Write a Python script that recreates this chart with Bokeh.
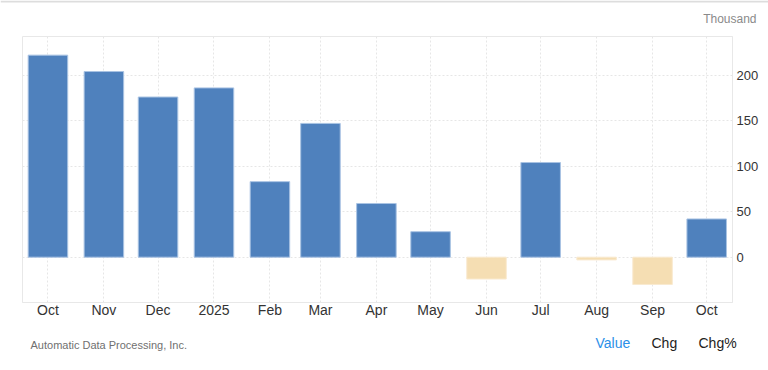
import pandas as pd
from bokeh.plotting import figure
from bokeh.layouts import column
from bokeh.models import ColumnDataSource, Range1d, FixedTicker
from bokeh.core.properties import value
from bokeh.embed import file_html
from bokeh.resources import INLINE

# ---- data ----
months = ["2024-10-01", "2024-11-01", "2024-12-01", "2025-01-01", "2025-02-01",
          "2025-03-01", "2025-04-01", "2025-05-01", "2025-06-01", "2025-07-01",
          "2025-08-01", "2025-09-01", "2025-10-01"]
values = [222, 204, 176, 186, 83, 147, 59, 28, -24, 104, -3, -30, 42]
tick_labels = ["Oct", "Nov", "Dec", "2025", "Feb", "Mar", "Apr", "May", "Jun",
               "Jul", "Aug", "Sep", "Oct"]
y_ticks = [0, 50, 100, 150, 200]
unit_label = "Thousand"
source_label = "Automatic Data Processing, Inc."
tabs = ["Value", "Chg", "Chg%"]

FONT = "Liberation Sans"
POS = "#4f81bd"
NEG = "#f5deb3"
W = 768


def blank(height):
    f = figure(width=W, height=height, output_backend="svg",
               toolbar_location=None, x_range=Range1d(0, W),
               y_range=Range1d(height, 0), min_border=0, frame_align=False)
    f.axis.visible = False
    f.grid.visible = False
    f.outline_line_color = None
    f.background_fill_color = "white"
    f.border_fill_color = "white"
    return f


# ---- header ----
head = blank(36)
head.segment(x0=[0], y0=[1], x1=[W], y1=[1], line_color="#dddddd", line_width=2)
head.text(x=[756], y=[18], text=[unit_label], text_font=value(FONT),
          text_font_size="12px", text_color="#8a8a8a", text_align="right",
          text_baseline="middle")

# ---- main chart ----
dts = pd.to_datetime(months)
days = [int((d - dts[0]).days) for d in dts]
fill = [POS if v >= 0 else NEG for v in values]
line = ["#a9c3e3" if v >= 0 else "#f9ead0" for v in values]
src = ColumnDataSource(dict(x=days, top=values, fill=fill, line=line))

p = figure(width=W, height=298, output_backend="svg", toolbar_location=None,
           x_range=Range1d(-14.1, days[-1] + 14.3),
           y_range=Range1d(-49.8, 242.5),
           y_axis_location="right", frame_align=False,
           min_border_left=22, min_border_right=36,
           min_border_top=0, min_border_bottom=32)

p.vbar(x="x", top="top", bottom=0, width=21.9, source=src,
       fill_color="fill", line_color="line", line_width=1)

p.background_fill_color = "white"
p.border_fill_color = "white"
p.outline_line_color = "#e8e8e8"
p.outline_line_width = 1

p.xgrid.ticker = FixedTicker(ticks=days)
p.ygrid.ticker = FixedTicker(ticks=y_ticks)
for g in (p.xgrid, p.ygrid):
    g.grid_line_color = "#e6e6e6"
    g.grid_line_dash = "2 2"
    g.grid_line_width = 1

xa = p.xaxis[0]
xa.ticker = FixedTicker(ticks=days)
xa.major_label_overrides = {d: lab for d, lab in zip(days, tick_labels)}
xa.major_tick_line_color = None
xa.minor_tick_line_color = None
xa.major_tick_out = 0
xa.major_tick_in = 0
xa.axis_line_color = "#e8e8e8"
xa.major_label_text_font = FONT
xa.major_label_text_font_size = "14px"
xa.major_label_text_color = "#333333"
xa.major_label_standoff = -1

ya = p.yaxis[0]
ya.ticker = FixedTicker(ticks=y_ticks)
ya.major_tick_line_color = None
ya.minor_tick_line_color = None
ya.major_tick_out = 0
ya.major_tick_in = 0
ya.axis_line_color = "#e8e8e8"
ya.major_label_text_font = FONT
ya.major_label_text_font_size = "13px"
ya.major_label_text_color = "#333333"
ya.major_label_standoff = 4

# ---- footer ----
foot = blank(36)
foot.text(x=[30], y=[10], text=[source_label], text_font=value(FONT),
          text_font_size="11px", text_color="#707070", text_baseline="middle")
foot.text(x=[595, 651, 698], y=[8, 8, 8], text=tabs, text_font=value(FONT),
          text_font_size="14px", text_color=["#2b8fe8", "#222222", "#222222"],
          text_baseline="middle")

layout = column(head, p, foot, spacing=0)
open("out.html", "w").write(file_html(layout, INLINE))
